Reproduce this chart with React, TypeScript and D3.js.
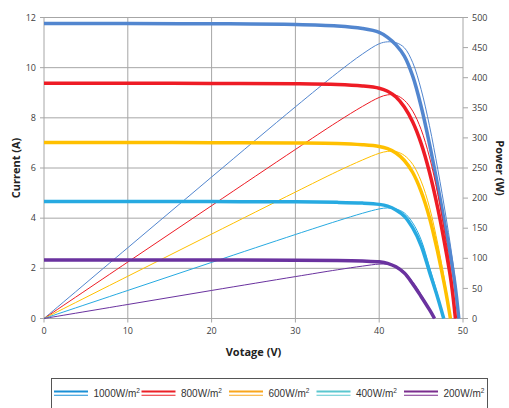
import * as d3 from 'd3';
import { type FC } from 'react';

// I-V (thick) and P-V (thin) curves per irradiance
const voltage1000 = [0, 10, 20, 30, 35, 38, 40, 41, 42, 43, 44, 45, 46, 47, 48, 49, 49.5];
const current1000 = [11.76, 11.76, 11.75, 11.72, 11.66, 11.56, 11.41, 11.21, 10.91, 10.46, 9.66, 8.46, 6.96, 5.26, 3.46, 1.46, 0];
const power1000 = [0, 117.6, 235, 351.6, 408.1, 439.3, 456.4, 459.6, 458.2, 449.8, 425, 380.7, 320.2, 247.2, 166.1, 71.5, 0];

const voltage800 = [0, 10, 20, 30, 35, 38, 40, 41, 42, 43, 44, 45, 46, 47, 48, 48.6, 49.1];
const current800 = [9.38, 9.38, 9.37, 9.36, 9.33, 9.27, 9.18, 9.06, 8.83, 8.43, 7.83, 6.98, 5.83, 4.38, 2.63, 1.43, 0];
const power800 = [0, 93.8, 187.4, 280.8, 326.6, 352.3, 367.2, 371.5, 370.9, 362.5, 344.5, 314.1, 268.2, 205.9, 126.2, 69.5, 0];

const voltage600 = [0, 10, 20, 30, 35, 38, 40, 41, 42, 43, 44, 45, 46, 47, 47.5, 48, 48.5];
const current600 = [7.02, 7.02, 7.01, 7.0, 6.98, 6.93, 6.86, 6.77, 6.6, 6.3, 5.82, 5.07, 4.02, 2.62, 1.82, 0.97, 0];
const power600 = [0, 70.2, 140.2, 210, 244.3, 263.3, 274.4, 277.6, 277.2, 270.9, 256.1, 228.2, 184.9, 123.1, 86.5, 46.6, 0];

const voltage400 = [0, 10, 20, 30, 35, 38, 40, 41, 42, 43, 44, 45, 46, 47, 47.7];
const current400 = [4.66, 4.66, 4.66, 4.65, 4.63, 4.6, 4.55, 4.48, 4.33, 4.08, 3.61, 2.91, 1.86, 0.81, 0];
const power400 = [0, 46.6, 93.2, 139.5, 162, 174.8, 182, 183.7, 181.9, 175.4, 158.8, 131, 85.6, 38.1, 0];

const voltage200 = [0, 10, 20, 30, 35, 38, 40, 41, 42, 43, 44, 45, 46, 46.6];
const current200 = [2.33, 2.33, 2.33, 2.32, 2.31, 2.29, 2.26, 2.2, 2.06, 1.81, 1.38, 0.88, 0.35, 0];
const power200 = [0, 23.3, 46.6, 69.6, 80.9, 87, 90.4, 90.2, 86.5, 77.8, 60.7, 39.6, 16.1, 0];

const seriesLabels = ['1000', '800', '600', '400', '200'];
const voltages = [voltage1000, voltage800, voltage600, voltage400, voltage200];
const currents = [current1000, current800, current600, current400, current200];
const powers = [power1000, power800, power600, power400, power200];

const lineColors = ['#5286cf', '#ee1c25', '#ffc000', '#27aae1', '#6a329f'];
const legendColors = ['#1a8fd6', '#ec2027', '#f9a61c', '#5bc7cf', '#7b2d8e'];

const voltageTicks = [0, 10, 20, 30, 40, 50];
const currentTicks = [0, 2, 4, 6, 8, 10, 12];
const powerTicks = [0, 50, 100, 150, 200, 250, 300, 350, 400, 450, 500];

const W = 509;
const H = 408;
const plot = { left: 44, right: 463, top: 17.5, bottom: 318.5 };
const tickFont = '"Open Sans", sans-serif';
const gridColor = '#a6a6a6';
const textColor = '#404040';

const App: FC = () => {
  const x = d3.scaleLinear().domain([0, 50]).range([plot.left, plot.right]);
  const y = d3.scaleLinear().domain([0, 12]).range([plot.bottom, plot.top]);
  const yP = d3.scaleLinear().domain([0, 500]).range([plot.bottom, plot.top]);

  const curve = d3.curveCatmullRom.alpha(0.5);

  const ivLine = (vs: number[], is: number[]) =>
    d3
      .line<number>()
      .x((_, k) => x(vs[k]))
      .y((d) => y(d))
      .curve(curve)(is) || '';

  const pvLine = (vs: number[], ps: number[]) =>
    d3
      .line<number>()
      .x((_, k) => x(vs[k]))
      .y((d) => yP(d))
      .curve(curve)(ps) || '';

  const legendStep = 87.5;

  return (
    <div style={{ position: 'absolute', left: 0, top: 0 }}>
      <svg width={W} height={H} style={{ display: 'block' }}>
        <rect width={W} height={H} fill="#fff" />

        {/* grid */}
        {currentTicks.map((t) => (
          <line
            key={'h' + t}
            x1={plot.left - 4}
            x2={plot.right}
            y1={y(t)}
            y2={y(t)}
            stroke={gridColor}
            strokeWidth={1}
          />
        ))}
        {voltageTicks.map((t) => (
          <line
            key={'v' + t}
            x1={x(t)}
            x2={x(t)}
            y1={plot.top}
            y2={plot.bottom + 4}
            stroke={gridColor}
            strokeWidth={1}
          />
        ))}
        {powerTicks.map((t) => (
          <line
            key={'p' + t}
            x1={plot.right}
            x2={plot.right + 5}
            y1={yP(t)}
            y2={yP(t)}
            stroke={gridColor}
            strokeWidth={1}
          />
        ))}

        {/* curves */}
        {seriesLabels.map((s, k) => (
          <g key={s}>
            <path
              d={pvLine(voltages[k], powers[k])}
              fill="none"
              stroke={lineColors[k]}
              strokeWidth={1}
            />
            <path
              d={ivLine(voltages[k], currents[k])}
              fill="none"
              stroke={lineColors[k]}
              strokeWidth={3.5}
            />
          </g>
        ))}

        {/* tick labels */}
        <g fontFamily={tickFont} fontSize={9} fill={textColor}>
          {currentTicks.map((t) => (
            <text key={'cl' + t} x={plot.left - 8} y={y(t)} dy="0.35em" textAnchor="end">
              {t}
            </text>
          ))}
          {voltageTicks.map((t) => (
            <text key={'vl' + t} x={x(t)} y={plot.bottom + 15} textAnchor="middle">
              {t}
            </text>
          ))}
          {powerTicks.map((t) => (
            <text key={'pl' + t} x={plot.right + 9} y={yP(t)} dy="0.35em">
              {t}
            </text>
          ))}
        </g>

        {/* axis titles */}
        <g fontFamily={tickFont} fontSize={11} fontWeight="bold" fill="#222">
          <text
            transform={`translate(20,${(plot.top + plot.bottom) / 2}) rotate(-90)`}
            textAnchor="middle"
          >
            Current (A)
          </text>
          <text
            transform={`translate(496,${(plot.top + plot.bottom) / 2}) rotate(90)`}
            textAnchor="middle"
          >
            Power (W)
          </text>
          <text x={(plot.left + plot.right) / 2} y={356} textAnchor="middle">
            Votage (V)
          </text>
        </g>

        {/* legend */}
        <rect x={51.5} y={378.5} width={436} height={40} fill="#fff" stroke="#555" strokeWidth={1} />
        {seriesLabels.map((s, k) => {
          const lx = 54 + k * legendStep;
          return (
            <g key={'lg' + s}>
              <line x1={lx} x2={lx + 34} y1={391.5} y2={391.5} stroke={legendColors[k]} strokeWidth={2.2} />
              <line x1={lx} x2={lx + 34} y1={395.3} y2={395.3} stroke={legendColors[k]} strokeWidth={1.1} />
              <text
                x={lx + 39.5}
                y={397}
                fontFamily='"Liberation Sans", Arial, sans-serif'
                fontSize={10}
                fill="#333"
              >
                {s}W/m
                <tspan fontSize={6.5} dy={-4}>
                  2
                </tspan>
              </text>
            </g>
          );
        })}
      </svg>
    </div>
  );
};

export default App;
